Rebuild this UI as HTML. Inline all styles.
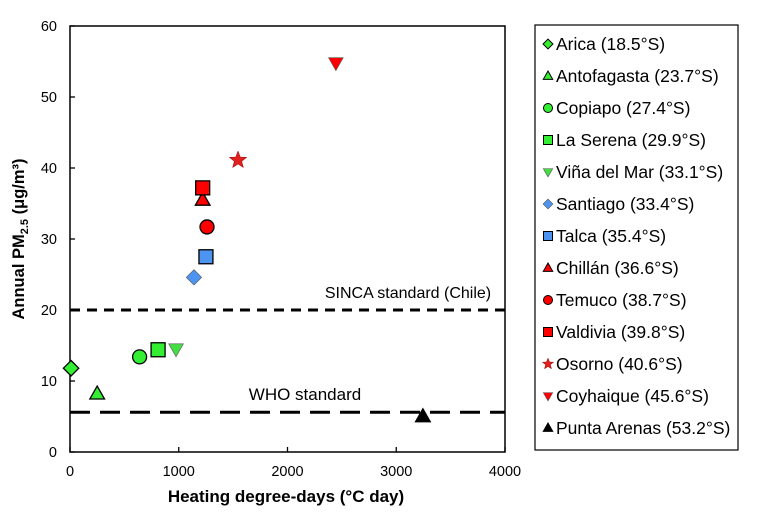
<!DOCTYPE html>
<html><head><meta charset="utf-8"><style>
body{margin:0;background:#fff;}
svg{display:block;font-family:"Liberation Sans",Arial,sans-serif;}
</style></head><body>
<svg id="chart" width="757" height="513" viewBox="0 0 757 513">
<rect x="70" y="26" width="435" height="426" fill="none" stroke="#000" stroke-width="1.5"/>
<g id="xticks"></g><g id="yticks"></g>
<text x="286" y="502" text-anchor="middle" font-size="17" font-weight="bold">Heating degree-days (°C day)</text>
<text transform="translate(24,239) rotate(-90)" text-anchor="middle" font-size="16.5" font-weight="bold">Annual PM<tspan font-size="11" dy="4">2.5</tspan><tspan dy="-4"> (μg/m³)</tspan></text>
<g id="reflines"></g>
<g id="marks"></g>
<rect x="535" y="25" width="203" height="425" fill="#fff" stroke="#000" stroke-width="1.2"/>
<g id="legend"></g>
</svg>
<script>
const cities=["Arica (18.5°S)","Antofagasta (23.7°S)","Copiapo (27.4°S)","La Serena (29.9°S)","Viña del Mar (33.1°S)","Santiago  (33.4°S)","Talca  (35.4°S)","Chillán (36.6°S)","Temuco  (38.7°S)","Valdivia (39.8°S)","Osorno (40.6°S)","Coyhaique (45.6°S)","Punta Arenas (53.2°S)"];
const hdd=[10,250,640,810,975,1140,1250,1220,1260,1220,1545,2445,3245];
const pm=[11.8,8.2,13.4,14.4,14.5,24.6,27.5,35.5,31.7,37.2,41.1,54.8,5.0];
const shapes=["diamond","tri","circle","square","tridown","diamond","square","tri","circle","square","star","tridown","tri"];
const colors=["#33ee33","#33ee33","#33ee33","#33ee33","#44dd44","#4d94f0","#4d94f0","#ff0000","#ff0000","#ff0000","#e02020","#ff0000","#000000"];
const xTicks=[0,1000,2000,3000,4000];
const yTicks=[0,10,20,30,40,50,60];
const refValues=[20,5.6];
const refLabels=["SINCA standard (Chile)","WHO standard"];
const X=v=>70+v*435/4000, Y=v=>452-v*426/60;
const NS="http://www.w3.org/2000/svg";
function mk(t,a,p){const e=document.createElementNS(NS,t);for(const k in a)e.setAttribute(k,a[k]);p.appendChild(e);return e;}
const xt=document.getElementById('xticks'),yt=document.getElementById('yticks');
xTicks.forEach(v=>{
 const l=mk('line',{x1:X(v),x2:X(v),y1:452,y2:447,stroke:'#000','stroke-width':1.3},xt);
 
 
 const t=mk('text',{x:X(v),y:476,'text-anchor':'middle','font-size':14.5},xt);t.textContent=v;
 
 
});
yTicks.forEach(v=>{
 const l=mk('line',{x1:70,x2:75,y1:Y(v),y2:Y(v),stroke:'#000','stroke-width':1.3},yt);
 
 
 const t=mk('text',{x:57,y:Y(v)+5,'text-anchor':'end','font-size':14.5},yt);t.textContent=v;
 
 
});
const rl=document.getElementById('reflines');
refValues.forEach((v,i)=>{
 const l=mk('line',{x1:70,x2:505,y1:Y(v),y2:Y(v),stroke:'#000','stroke-width':3,'stroke-dasharray':i==0?'10 7':'20 10'},rl);
 
 
 const t=mk('text',{x:i==0?408:305,y:Y(v)-12,'text-anchor':'middle','font-size':i==0?16:17},rl);t.textContent=refLabels[i];
 
 
});
function shape(s,cx,cy,r,fill,p,sw){
 let a={fill:fill,stroke:'#000','stroke-width':sw};
 if(s=='circle')return mk('circle',Object.assign({cx:cx,cy:cy,r:r},a),p);
 if(s=='square')return mk('rect',Object.assign({x:cx-r,y:cy-r,width:2*r,height:2*r},a),p);
 let pts;
 if(s=='diamond')pts=[[cx,cy-r*1.1],[cx+r*1.1,cy],[cx,cy+r*1.1],[cx-r*1.1,cy]];
 else if(s=='tri')pts=[[cx,cy-r*1.1],[cx+r*1.05,cy+r*0.75],[cx-r*1.05,cy+r*0.75]];
 else if(s=='tridown')pts=[[cx,cy+r*1.1],[cx+r*1.05,cy-r*0.75],[cx-r*1.05,cy-r*0.75]];
 else {pts=[];for(let k=0;k<10;k++){const ang=-Math.PI/2+k*Math.PI/5,rr=k%2?r*0.55:r*1.3;pts.push([cx+rr*Math.cos(ang),cy+rr*Math.sin(ang)]);}a.stroke='#900';a['stroke-width']=0.5;}
 if(s=='tridown'||s=='diamond'&&fill=='#4d94f0'){a.stroke='#555';a['stroke-width']=0.6;}
 return mk('polygon',Object.assign({points:pts.map(q=>q.join(',')).join(' ')},a),p);
}
const mg=document.getElementById('marks'),lg=document.getElementById('legend');
hdd.forEach((v,i)=>{
 const e=shape(shapes[i],X(v),Y(pm[i]),7,colors[i],mg,1.3);
 
 
 const yy=44+i*32;
 const m=shape(shapes[i],548,yy,4.5,colors[i],lg,1);
 
 
 const t=mk('text',{x:556,y:yy+6,'font-size':17.5},lg);t.textContent=cities[i];
 
 
});
</script>
</body></html>
